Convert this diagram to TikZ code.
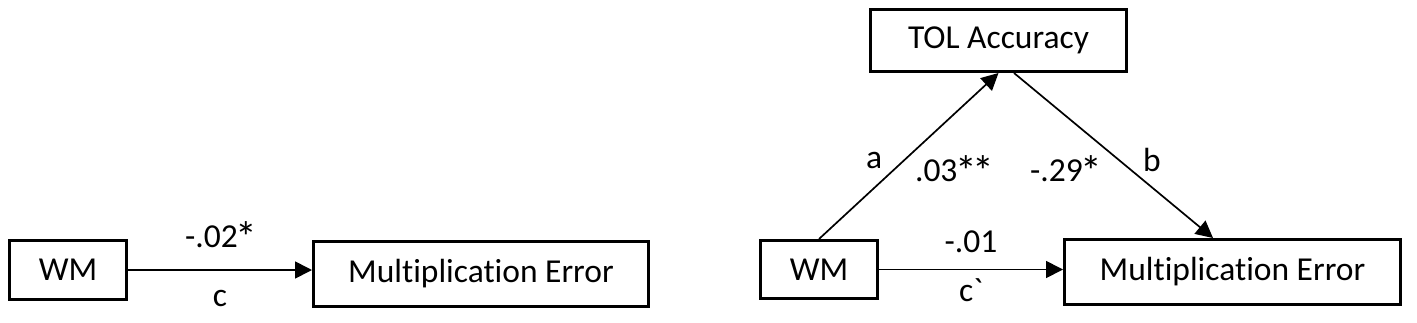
\documentclass[tikz,border=0pt]{standalone}
\usepackage{fontspec}
\setmainfont{Carlito}[Ligatures={NoCommon, NoContextual}]
\usepackage{tikz}
\usetikzlibrary{arrows.meta, positioning}
\newcommand{\lblfont}{\fontsize{16.75}{20}\selectfont}
\newcommand{\sigmark}{\kern-0.07em\raisebox{-0.16em}{\scalebox{1.3}{*}}\kern-0.07em}
\tikzset{
	varbox/.style={draw, line width=1.6pt, inner sep=0pt, font=\lblfont},
	patharr/.style={-{Triangle[length=8.5pt, width=8.5pt]}, line width=0.85pt},
	coef/.style={font=\lblfont, inner sep=0pt},
}
\begin{document}
\begin{tikzpicture}[x=0.5pt, y=-0.5pt]
	\useasboundingbox (0,0) rectangle (1417,322);
	\node[varbox, minimum width=58.4pt, minimum height=29.4pt] (wmL) at (68,270) {WM};
	\node[varbox, minimum width=167.4pt, minimum height=32.4pt] (meL) at (481,274) {Multiplication Error};
	\draw[patharr] (wmL.east) -- node[coef, yshift=16.5pt] (cL) {-.02\sigmark} node[coef, yshift=-14pt] (cLname) {c} (wmL.east -| meL.west);
	\node[varbox, minimum width=58.4pt, minimum height=28.9pt] (wmR) at (819,269.5) {WM};
	\node[varbox, minimum width=167.9pt, minimum height=32.4pt] (meR) at (1232.5,272) {Multiplication Error};
	\node[varbox, minimum width=127.9pt, minimum height=30.9pt] (tol) at (998.5,40.5) {TOL Accuracy};
	\draw[patharr] (wmR.north) -- node[coef, xshift=-17.25pt, yshift=-2pt] (aname) {a} node[coef, xshift=22.25pt, yshift=-7.5pt] (aval) {.03\sigmark\sigmark} (tol.south);
	\draw[patharr] ([xshift=7.75pt]tol.south) -- node[coef, xshift=-24.25pt, yshift=-7.75pt] (bval) {-.29\sigmark} node[coef, xshift=19.25pt, yshift=-2.25pt] (bname) {b} ([xshift=-9.75pt]meR.north);
	\draw[patharr] (wmR.east) -- node[coef, yshift=13.75pt] (cR) {-.01} node[coef, yshift=-10.25pt] (cRname) {c\textasciigrave} (wmR.east -| meR.west);
\end{tikzpicture}
\end{document}
